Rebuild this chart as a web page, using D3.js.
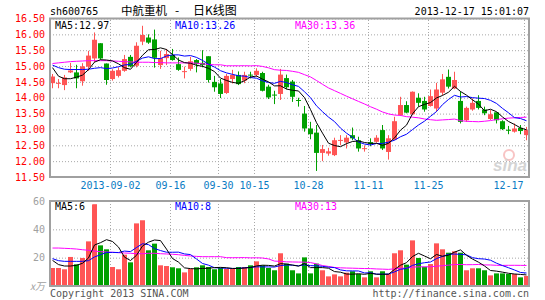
<!DOCTYPE html>
<html>
<head>
<meta charset="utf-8">
<title>sh600765 日K线图</title>
<script src="https://d3js.org/d3.v7.min.js"></script>
<style>
body {margin:0; background:#fff;}
svg {display:block; font-family:"DejaVu Sans Mono", monospace;}
</style>
</head>
<body>
<script>
// trading days shown (2013)
var days = ["08-19","08-20","08-21","08-22","08-23","08-26","08-27","08-28","08-29","08-30",
  "09-02","09-03","09-04","09-05","09-06","09-09","09-10","09-11","09-12","09-13",
  "09-16","09-17","09-18","09-23","09-24","09-25","09-26","09-27","09-30",
  "10-08","10-09","10-10","10-11","10-14","10-15","10-16","10-17","10-18","10-21",
  "10-22","10-23","10-24","10-25","10-28","10-29","10-30","10-31",
  "11-01","11-04","11-05","11-06","11-07","11-08","11-11","11-12","11-13","11-14",
  "11-15","11-18","11-19","11-20","11-21","11-22","11-25","11-26","11-27","11-28","11-29",
  "12-02","12-03","12-04","12-05","12-06","12-09","12-10","12-11","12-12","12-13","12-16","12-17"];

var opens = [14.46,14.46,14.40,14.80,14.80,14.52,14.98,15.24,15.72,15.08,
  14.59,14.69,14.85,15.29,15.01,15.77,15.90,15.84,15.03,15.25,
  15.35,15.06,14.82,14.91,15.19,15.10,15.31,14.50,14.45,14.15,
  14.59,14.72,14.54,14.73,14.72,14.78,14.35,14.10,14.12,14.62,
  14.51,13.93,13.50,13.03,12.90,12.26,12.24,12.19,12.64,12.59,
  12.82,12.66,12.38,12.60,12.61,12.98,12.29,12.68,13.45,13.77,
  13.48,14.00,13.90,13.74,13.66,14.16,14.66,14.29,13.90,13.29,
  13.63,13.90,13.63,13.33,13.54,13.26,12.99,12.93,13.05,12.82];
var highs = [14.75,14.59,14.72,15.10,15.04,15.09,15.48,16.06,15.72,15.08,
  14.90,14.96,15.35,15.35,15.75,16.27,16.00,16.15,15.48,15.54,
  15.54,15.27,14.98,15.29,15.22,15.50,15.31,14.69,14.59,14.75,
  14.88,14.83,14.82,14.82,14.93,14.82,14.41,14.22,14.91,14.73,
  14.56,14.00,13.74,13.24,13.14,12.51,12.42,12.74,12.82,12.82,
  13.06,12.77,12.50,12.72,12.82,13.14,12.82,13.40,14.03,13.89,
  14.20,14.14,14.03,14.26,14.47,14.75,14.89,14.82,14.20,13.72,
  13.98,14.08,13.72,13.61,13.54,13.29,13.11,13.19,13.14,13.08];
var lows = [14.30,14.30,14.24,14.78,14.30,14.38,14.85,15.12,15.20,14.41,
  14.54,14.64,14.82,14.96,14.96,15.66,15.70,14.95,14.91,15.03,
  15.17,14.85,14.61,14.85,14.80,14.96,14.48,14.19,13.99,14.12,
  14.45,14.40,14.46,14.61,14.66,14.20,13.96,13.80,13.93,14.27,
  13.87,13.72,12.93,12.69,11.69,12.00,12.17,12.16,12.50,12.40,
  12.66,12.30,12.30,12.47,12.58,12.35,12.05,12.66,13.43,13.51,
  13.45,13.72,13.56,13.72,13.56,14.08,14.29,14.27,13.19,13.24,
  13.59,13.63,13.45,13.30,13.19,12.98,12.85,12.90,12.85,12.66];
var closes = [14.67,14.47,14.64,14.86,14.61,14.99,15.33,15.83,15.24,14.56,
  14.85,14.87,15.22,14.99,15.64,15.98,15.74,15.26,15.25,15.38,
  15.19,14.88,14.84,15.15,15.06,15.03,14.56,14.33,14.12,14.69,
  14.72,14.43,14.72,14.71,14.85,14.22,14.01,14.08,14.73,14.33,
  14.03,13.90,13.03,12.85,12.26,12.38,12.31,12.66,12.67,12.74,
  12.72,12.40,12.41,12.54,12.74,12.40,12.72,13.26,13.77,13.53,
  14.19,13.84,13.63,14.05,14.26,14.58,14.35,14.56,13.24,13.68,
  13.84,13.68,13.51,13.48,13.29,13.01,12.97,13.03,12.95,12.98];
// volume, 万手
var volumes = [12.7,12.7,11.8,20.5,15.3,19.8,31.5,57.6,28.7,25.9,
  13.4,11.8,22.1,16.7,44.2,46.4,25.2,29.9,14.6,14.1,
  13.2,12.5,9.6,12.0,13.2,14.6,13.4,11.8,12.7,12.0,
  12.0,13.4,13.4,14.6,17.4,14.6,12.7,11.1,23.1,15.8,
  11.1,8.9,20.2,8.9,15.8,11.1,6.8,8.2,6.8,9.4,
  10.4,8.5,6.1,10.4,6.1,10.4,8.5,23.1,25.2,15.1,
  32.2,19.8,13.6,15.5,30.1,25.9,23.5,24.5,23.5,11.1,
  12.5,12.5,11.1,7.5,8.9,8.9,8.5,8.5,6.1,7.1];

// moving average values before enough visible days exist
var ma5Head = [14.95,14.68,14.60,14.60];
var ma10Head = [15.03,14.95,14.90,14.89,14.89,14.89,14.90,14.93,14.95];
var ma30Head = [15.08,15.10,15.12,15.14,15.15,15.16,15.17,15.17,15.17,15.17,
  15.16,15.15,15.14,15.13,15.12,15.12,15.12,15.11,15.11,15.10,
  15.10,15.10,15.10,15.10,15.09,15.07,15.05,15.04,15.04];
var vma5Head = [18.1,15.1,14.1,14.1];
var vma10Head = [19.3,17.9,17.4,17.4,17.4,17.4,17.9,20.5,22.1];
var vma30Head = [26.8,26.8,26.6,26.4,26.1,25.6,25.2,24.7,24.2,24.0,
  23.8,23.5,23.3,23.1,22.8,22.8,23.1,23.1,22.8,22.6,
  22.4,22.1,21.6,21.2,20.9,20.7,20.7,20.7,20.7];

var priceTicks = [11.5,12,12.5,13,13.5,14,14.5,15,15.5,16,16.5];
var volTicks = [0,20,40,60];
var tickDates = ["09-02","09-16","09-30","10-15","10-28","11-11","11-25","12-17"];
var tickLabels = ["2013-09-02","09-16","09-30","10-15","10-28","11-11","11-25","12-17"];

var RED = "#ff5555", GREEN = "#00a000";

function movingAvg(vals, n, head) {
  return vals.map(function(v, i) {
    if (i < n - 1) return head[i];
    return d3.mean(vals.slice(i - n + 1, i + 1));
  });
}

var svg = d3.select("body").append("svg")
  .attr("width", 545).attr("height", 300);

var xi = d3.scaleLinear().domain([0, days.length]).range([50, 530]);
var y = d3.scaleLinear().domain([11.5, 16.5]).range([177, 18.5]);
var yv = d3.scaleLinear().domain([0, 60]).range([286, 201]);
var tickIdx = tickDates.map(function(d) { return days.indexOf(d); });

// ---- grids and axes
var gy = svg.append("g").attr("transform", "translate(50,0)")
  .call(d3.axisLeft(y).tickValues(priceTicks).tickSize(-479).tickPadding(5)
    .tickFormat(d3.format(".2f")));
gy.selectAll("text").attr("fill", "#ff0000");

var gx = svg.append("g").attr("transform", "translate(0,177)")
  .call(d3.axisBottom(xi).tickValues(tickIdx).tickSize(-(177 - 18.5)).tickPadding(5)
    .tickFormat(function(v, i) { return tickLabels[i]; }));
gx.selectAll("text").attr("fill", "#0a7bc4")
  .filter(function(d, i) { return i === tickIdx.length - 1; })
  .attr("text-anchor", "end").attr("dx", "-1");

var gvy = svg.append("g").attr("transform", "translate(50,0)")
  .call(d3.axisLeft(yv).tickValues(volTicks).tickSize(-479).tickPadding(5)
    .tickFormat(function(d) { return d === 0 ? "x万" : d; }));
gvy.selectAll("text").attr("fill", "#a0a0a0");
gvy.selectAll(".tick").filter(function(d) { return d === 0; }).select("text")
  .attr("font-family", "'Noto Sans CJK SC', sans-serif").attr("font-style", "italic");

var gvx = svg.append("g").attr("transform", "translate(0,286)")
  .call(d3.axisBottom(xi).tickValues(tickIdx).tickSize(-(286 - 201)).tickFormat(""));

svg.selectAll(".domain").remove();
svg.selectAll(".tick line").attr("stroke", "#a8a8a8").attr("stroke-dasharray", "1,2");
svg.selectAll(".tick text").attr("font-size", 10)
  .attr("font-family", function() { return d3.select(this).attr("font-family") || "'DejaVu Sans Mono', monospace"; });

// ---- sina watermark
var wm = svg.append("g");
wm.append("circle").attr("cx", 509).attr("cy", 155).attr("r", 5)
  .attr("fill", "none").attr("stroke", "#f8c4c4").attr("stroke-width", 2);
wm.append("text").attr("x", 493).attr("y", 171).text("sina")
  .attr("font-family", "'Liberation Sans', sans-serif").attr("font-size", 17)
  .attr("font-weight", "bold").attr("font-style", "italic").attr("fill", "#d4d4d4");

// ---- candles
var candles = svg.append("g");
days.forEach(function(d, i) {
  var up = closes[i] >= opens[i];
  var col = up ? RED : GREEN;
  var cx = xi(i) + 2.5;
  candles.append("line")
    .attr("x1", cx).attr("x2", cx)
    .attr("y1", y(highs[i])).attr("y2", y(lows[i]))
    .attr("stroke", col).attr("stroke-width", 1);
  var top = y(Math.max(opens[i], closes[i]));
  var bot = y(Math.min(opens[i], closes[i]));
  candles.append("rect")
    .attr("x", xi(i)).attr("width", 5)
    .attr("y", top).attr("height", Math.max(1, bot - top))
    .attr("fill", col);
});

// ---- volume bars
svg.append("g").selectAll("rect").data(volumes).join("rect")
  .attr("x", function(d, i) { return xi(i); })
  .attr("width", 5)
  .attr("y", function(d) { return yv(d); })
  .attr("height", function(d) { return yv(0) - yv(d); })
  .attr("fill", function(d, i) { return closes[i] >= opens[i] ? RED : GREEN; });

// ---- moving averages
function drawLine(vals, scale, color) {
  svg.append("path").datum(vals)
    .attr("fill", "none").attr("stroke", color).attr("stroke-width", 1)
    .attr("d", d3.line()
      .x(function(d, i) { return xi(i) + 2.5; })
      .y(function(d) { return scale(d); }));
}
drawLine(movingAvg(closes, 30, ma30Head), y, "#ff00ff");
drawLine(movingAvg(closes, 10, ma10Head), y, "#0000ff");
drawLine(movingAvg(closes, 5, ma5Head), y, "#000000");
drawLine(movingAvg(volumes, 30, vma30Head), yv, "#ff00ff");
drawLine(movingAvg(volumes, 10, vma10Head), yv, "#0000ff");
drawLine(movingAvg(volumes, 5, vma5Head), yv, "#000000");

// ---- frames
svg.append("rect").attr("x", 50).attr("y", 18.5).attr("width", 479).attr("height", 158.5)
  .attr("fill", "none").attr("stroke", "#a0a0a0").attr("stroke-width", 2);
svg.append("rect").attr("x", 50).attr("y", 201).attr("width", 479).attr("height", 85)
  .attr("fill", "none").attr("stroke", "#a0a0a0").attr("stroke-width", 2);

// ---- texts
function txt(x, yy, s, color, anchor, font, size) {
  return svg.append("text").attr("x", x).attr("y", yy).text(s)
    .attr("fill", color).attr("text-anchor", anchor || "start")
    .attr("font-family", font || "'DejaVu Sans Mono', monospace")
    .attr("font-size", size || 10);
}
var cjk = "'Noto Sans CJK SC', sans-serif";
txt(50, 14.5, "sh600765", "#000");
txt(121, 14.5, "中航重机", "#000", "start", cjk, 11.5);
txt(177, 14.5, "-", "#000", "middle", cjk, 12);
txt(193, 14.5, "日K线图", "#000", "start", cjk, 12);
txt(529, 14.5, "2013-12-17 15:01:07", "#000", "end");

txt(55, 28.5, "MA5:12.97", "#000");
txt(175, 28.5, "MA10:13.26", "#0000ff");
txt(295, 28.5, "MA30:13.36", "#ff00ff");

txt(55, 210, "MA5:6", "#000");
svg.append("rect").attr("x", 93).attr("y", 204.5).attr("width", 4).attr("height", 5)
  .attr("fill", closes[closes.length - 1] >= opens[opens.length - 1] ? RED : GREEN);
txt(175, 210, "MA10:8", "#0000ff");
txt(295, 210, "MA30:13", "#ff00ff");

txt(50, 297, "Copyright 2013 SINA.COM", "#555");
txt(529, 297, "http://finance.sina.com.cn", "#555", "end");
</script>
</body>
</html>
